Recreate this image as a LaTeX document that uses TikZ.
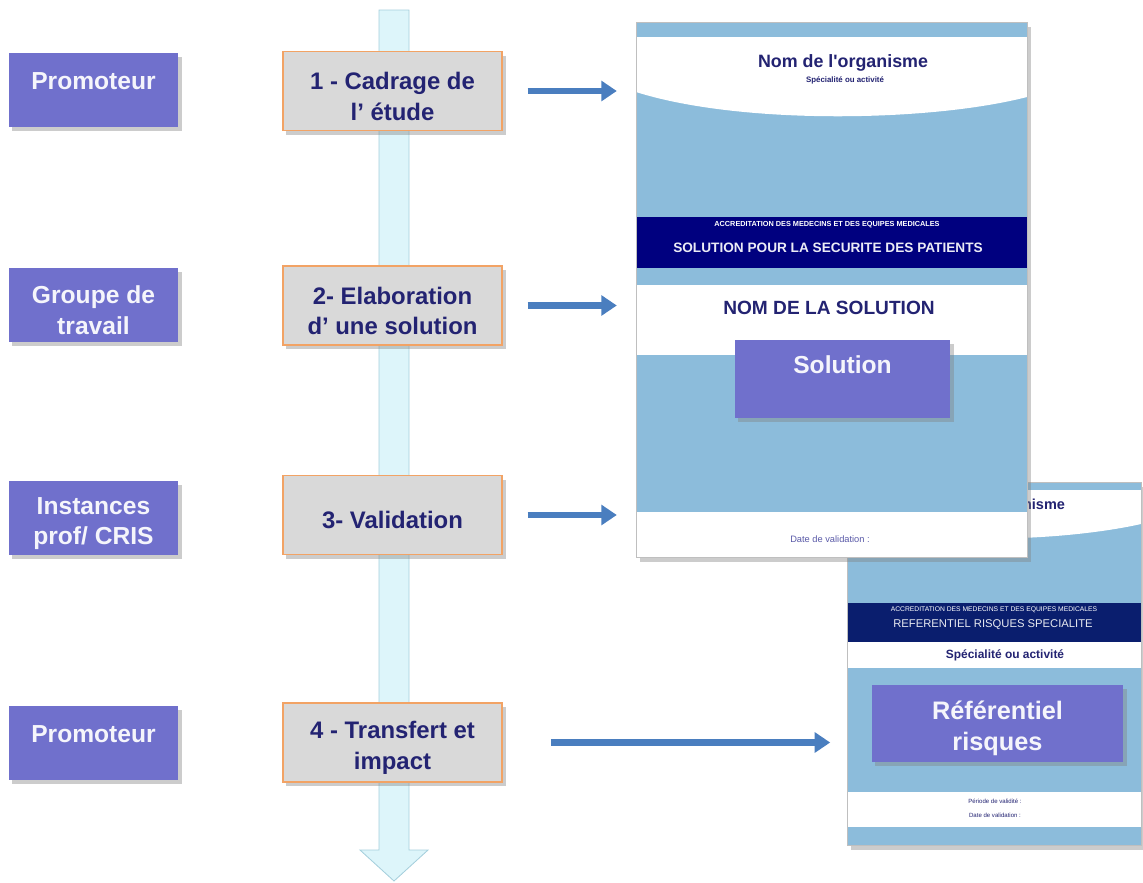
\documentclass[tikz,border=0pt]{standalone}
\usepackage{fontspec}
\setmainfont{Liberation Sans}
\usepackage{xcolor}
\usepackage{tikz}
\usetikzlibrary{arrows.meta,shadows}

\definecolor{roleviolet}{HTML}{7070CC}
\definecolor{etapegris}{HTML}{D9D9D9}
\definecolor{etapeorange}{HTML}{F2A365}
\definecolor{texteencre}{HTML}{232372}
\definecolor{docbleu}{HTML}{8CBCDB}
\definecolor{docmarine}{HTML}{00007F}
\definecolor{docmarineb}{HTML}{0A1E6E}
\definecolor{flechebleu}{HTML}{4A7EBF}
\definecolor{axecyan}{HTML}{DDF5FA}
\definecolor{axebord}{HTML}{A5CFDC}
\definecolor{datecolor}{HTML}{5A5AA8}
\newcommand{\hautligne}{\rule{0pt}{20pt}}

\begin{document}
\begin{tikzpicture}[x=0.025cm,y=-0.025cm,
    ombre/.style={drop shadow={opacity=.4,shadow xshift=2.5pt,shadow yshift=-3pt}},
    role/.style={fill=roleviolet,minimum width=4.225cm,minimum height=1.85cm,align=center,
        text=white!93!roleviolet,font=\bfseries\fontsize{17.5}{21.5}\selectfont,ombre},
    etape/.style={draw=etapeorange,line width=1pt,fill=etapegris,minimum width=5.475cm,
        minimum height=1.975cm,align=center,text=texteencre,
        font=\bfseries\fontsize{17}{21.5}\selectfont,ombre},
    fleche/.style={-{Triangle[length=11pt,width=14pt]},line width=4.5pt,draw=flechebleu},
    feuille/.style={fill=docbleu,draw=black!25,line width=.4pt,anchor=north west,inner sep=0pt,ombre}]
    \useasboundingbox (0,0) rectangle (1143,882);

    \filldraw[fill=axecyan,draw=axebord,line width=.6pt] (379,10) -- (409,10) -- (409,850)
        -- (428,850) -- (394,881) -- (360,850) -- (379,850) -- cycle;

    \node[role,text depth=20.4pt] (role1) at (93.5,90) {\hautligne Promoteur};
    \node[role] (role2) at (93.5,305) {\hautligne Groupe de\\travail};
    \node[role] (role3) at (93.5,518) {\hautligne Instances\\prof/ CRIS};
    \node[role,text depth=20.4pt] (role4) at (93.5,743) {\hautligne Promoteur};

    \node[etape] (etape1) at (392.5,91) {\hautligne 1 - Cadrage de\\l’ étude};
    \node[etape] (etape2) at (392.5,305.5) {\hautligne 2- Elaboration\\d’ une solution};
    \node[etape] (etape3) at (392.5,515) {\hautligne 3- Validation};
    \node[etape] (etape4) at (392.5,742.5) {\hautligne 4 - Transfert et\\impact};

    % referentiel
    \node[feuille,minimum width=7.35cm,minimum height=9.075cm] (doc2) at (847,482) {};
    \fill[white] (847,490) -- (1141,490) -- (1141,524) .. controls (1070,540) and (930,548) .. (847,520) -- cycle;
    \fill[docmarineb] (847,603) rectangle (1141,642);
    \fill[white] (847,642) rectangle (1141,668);
    \fill[white] (847,792) rectangle (1141,827);
    \draw[black!25,line width=.4pt] (doc2.north west) rectangle (doc2.south east);
    \node[font=\bfseries\fontsize{10.3}{12}\selectfont,text=texteencre] (organisme2) at (996,506) {Nom de l\textquotesingle organisme};
    \node[font=\fontsize{4.8}{6}\selectfont,text=white] (accred2) at (994,610) {ACCREDITATION DES MEDECINS ET DES EQUIPES MEDICALES};
    \node[font=\fontsize{8}{9}\selectfont,text=white!90!docmarineb] (titre2) at (993,625) {REFERENTIEL RISQUES SPECIALITE};
    \node[font=\bfseries\fontsize{8.5}{10}\selectfont,text=texteencre] (specialite2) at (1005,655) {Spécialité ou activité};
    \node[role,minimum width=6.275cm,minimum height=1.925cm,font=\bfseries\fontsize{18}{21.5}\selectfont] (referentiel) at (997.5,723.5) {\hautligne Référentiel\\risques};
    \node[font=\fontsize{4.3}{5}\selectfont,text=texteencre] (periode2) at (995,801) {Période de validité :};
    \node[font=\fontsize{4.3}{5}\selectfont,text=texteencre] (date2) at (995,815) {Date de validation :};

    % solution
    \node[feuille,minimum width=9.775cm,minimum height=13.375cm] (doc1) at (636,22) {};
    \fill[white] (636,37) -- (1027,37) -- (1027,97) .. controls (930,122) and (740,125) .. (636,92) -- cycle;
    \fill[docmarine] (636,217) rectangle (1027,268);
    \fill[white] (636,285) rectangle (1027,355);
    \fill[white] (636,512) rectangle (1027,557);
    \draw[black!25,line width=.4pt] (doc1.north west) rectangle (doc1.south east);
    \node[font=\bfseries\fontsize{12.7}{14}\selectfont,text=texteencre] (organisme1) at (843,63) {Nom de l\textquotesingle organisme};
    \node[font=\bfseries\fontsize{5.6}{7}\selectfont,text=texteencre] (specialite1) at (845,80) {Spécialité ou activité};
    \node[font=\bfseries\fontsize{5.2}{6}\selectfont,text=white] (accred1) at (827,225) {ACCREDITATION DES MEDECINS ET DES EQUIPES MEDICALES};
    \node[font=\bfseries\fontsize{9.7}{11}\selectfont,text=white!92!docmarine] (titre1) at (828,248) {SOLUTION POUR LA SECURITE DES PATIENTS};
    \node[font=\bfseries\fontsize{13.6}{15}\selectfont,text=texteencre] (nomsolution) at (829,308) {NOM DE LA SOLUTION};
    \node[role,minimum width=5.375cm,minimum height=1.95cm,text depth=27.8pt] (solution) at (842.5,379) {\hautligne Solution};
    \node[font=\fontsize{6.6}{8}\selectfont,text=datecolor] (date1) at (830,539) {Date de validation :};

    \draw[fleche,shorten <=0.62cm,shorten >=0.48cm] (etape1.east) -- (etape1.east -| doc1.west);
    \draw[fleche,shorten <=0.62cm,shorten >=0.48cm] (etape2.east) -- (etape2.east -| doc1.west);
    \draw[fleche,shorten <=0.62cm,shorten >=0.48cm] (etape3.east) -- (etape3.east -| doc1.west);
    \draw[fleche,shorten <=1.2cm,shorten >=0.42cm] (etape4.east) -- (etape4.east -| doc2.west);
\end{tikzpicture}
\end{document}
